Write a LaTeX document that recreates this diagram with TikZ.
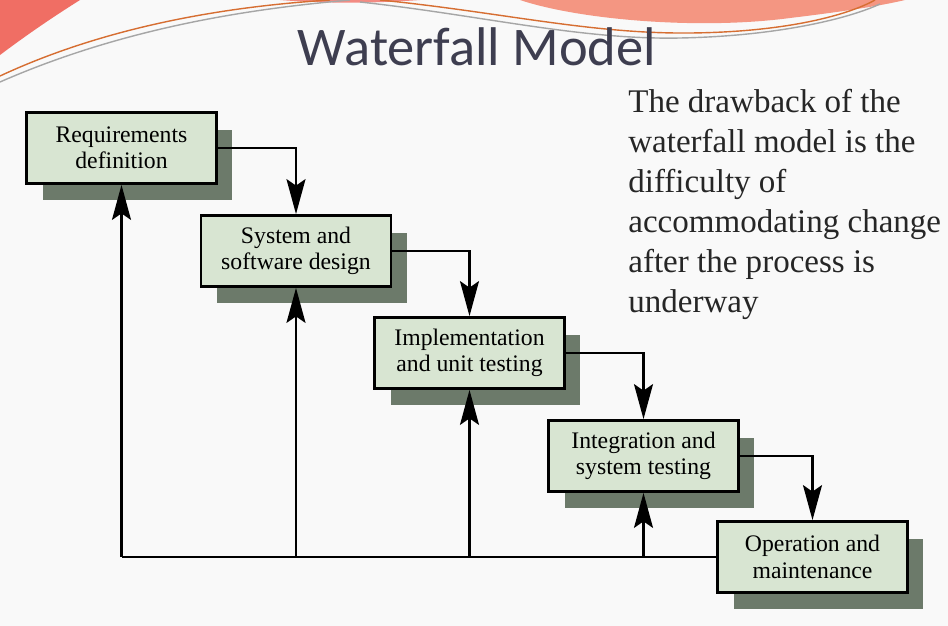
\documentclass[tikz,border=0pt]{standalone}
\usepackage{fontspec}
\setmainfont{Liberation Serif}
\newfontfamily\titlefont{Carlito}
\usetikzlibrary{arrows.meta,shadows}
\definecolor{bgW}{RGB}{249,249,249}
\definecolor{boxG}{RGB}{216,229,210}
\definecolor{shadG}{RGB}{108,122,106}
\definecolor{titleC}{RGB}{62,62,80}
\definecolor{swR}{RGB}{240,110,100}
\definecolor{swS}{RGB}{244,150,130}
\definecolor{swO}{RGB}{214,110,50}

\tikzset{
  phase/.style={draw,line width=1.6pt,fill=boxG,minimum width=3.8cm,minimum height=1.42cm,
    align=center,inner sep=1pt,font=\fontsize{13.5}{15}\selectfont,
    general shadow={fill=shadG,shadow xshift=0.32cm,shadow yshift=-0.34cm}},
  flow/.style={line width=1.2pt,-{Stealth[length=0.7cm,width=0.38cm,inset=0.13cm]}},
  back/.style={line width=1.2pt}
}

\begin{document}
\begin{tikzpicture}[x=0.02cm,y=-0.02cm]
% page
\fill[bgW] (0,0) rectangle (948,626);
\useasboundingbox (0,0) rectangle (948,626);
% top swooshes
\fill[swR] (0,0) -- (80,0) .. controls (45,22) and (20,40) .. (0,55) -- cycle;
\fill[swS] (520,0) .. controls (580,20) and (700,30) .. (790,18) .. controls (840,12) and (880,6) .. (905,0) -- cycle;
\fill[swR!80] (280,0) .. controls (330,4) and (380,3) .. (420,0) -- cycle;
\draw[swO,line width=0.8pt] (0,76) .. controls (120,20) and (250,5) .. (330,0);
\draw[black!35,line width=0.8pt] (0,82) .. controls (130,25) and (260,8) .. (350,0);
\draw[black!35,line width=0.8pt] (360,2) .. controls (480,15) and (580,40) .. (680,38) .. controls (780,36) and (850,18) .. (880,4);
\draw[swO,line width=0.8pt] (380,0) .. controls (500,12) and (590,34) .. (690,33) .. controls (790,32) and (850,14) .. (875,0);
% title
\node[font=\titlefont\fontsize{31}{35}\selectfont,text=titleC] (title) at (477,47) {Waterfall Model};
% the phases
\node[phase] (req) at (121.5,148) {Requirements\\definition};
\node[phase] (sys) at (296,251) {System and\\software design};
\node[phase] (impl) at (469.5,353) {Implementation\\and unit testing};
\node[phase] (integ) at (643.5,456) {Integration and\\system testing};
\node[phase] (oper) at (812.5,557) {Operation and\\maintenance};
% down the steps
\draw[flow] (req.east) -| (sys.north);
\draw[flow] (sys.east) -| (impl.north);
\draw[flow] (impl.east) -| (integ.north);
\draw[flow] (integ.east) -| (oper.north);
% feedback to every phase
\draw[back] (oper.west) -- (oper.west -| req.south);
\draw[flow] (oper.west -| req.south) -- (req.south);
\draw[flow] (oper.west -| sys.south) -- (sys.south);
\draw[flow] (oper.west -| impl.south) -- (impl.south);
\draw[flow] (oper.west -| integ.south) -- (integ.south);
% remark
\node[anchor=north west,align=left,inner sep=0pt,font=\fontsize{18.8}{22.8}\selectfont,text=black!85] (note) at (628,89)
  {The drawback of the\\waterfall model is the\\difficulty of\\accommodating change\\after the process is\\underway};
\end{tikzpicture}
\end{document}
